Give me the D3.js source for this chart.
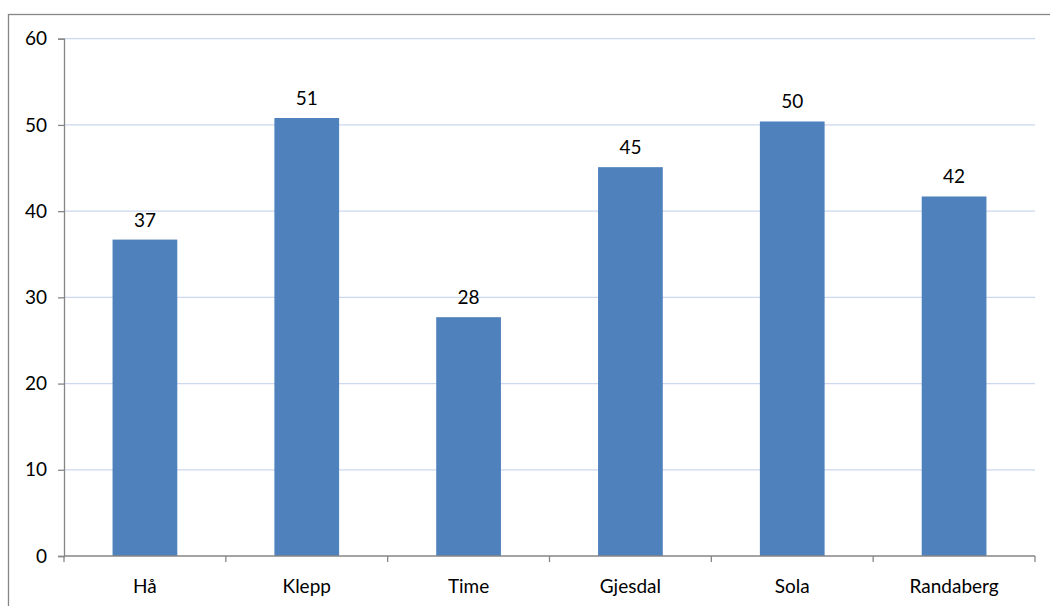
<!DOCTYPE html>
<html>
<head>
<meta charset="utf-8">
<script src="https://cdn.jsdelivr.net/npm/d3@7"></script>
<style>
  html, body { margin: 0; padding: 0; background: #fff; }
  svg { display: block; }
  text { font-family: Lato, "Open Sans", sans-serif; fill: #000; }
</style>
</head>
<body>
<svg id="chart" width="1050" height="606"></svg>
<script>
// Municipalities and their values
const categories = ["Hå", "Klepp", "Time", "Gjesdal", "Sola", "Randaberg"];
const values = [36.7, 50.8, 27.7, 45.1, 50.4, 41.7];
const yTicks = [0, 10, 20, 30, 40, 50, 60];

const svg = d3.select("#chart");
const W = 1050, H = 606;
const plot = { left: 64, right: 1035, top: 38.7, bottom: 556 };
const fontSize = 19;

// outer frame of the chart area
svg.append("rect")
  .attr("x", 8.5).attr("y", 14.5)
  .attr("width", W + 10).attr("height", H + 10)
  .attr("fill", "none").attr("stroke", "#868686").attr("stroke-width", 1.3);

const x = d3.scaleBand()
  .domain(categories)
  .range([plot.left, plot.right])
  .paddingInner(0.6)
  .paddingOuter(0.3);

const xEdges = d3.scaleLinear()
  .domain([0, categories.length])
  .range([plot.left, plot.right]);

const y = d3.scaleLinear()
  .domain([0, 60])
  .range([plot.bottom, plot.top]);

// horizontal gridlines
svg.append("g")
  .selectAll("line")
  .data(yTicks.filter(d => d > 0))
  .join("line")
  .attr("x1", plot.left).attr("x2", plot.right)
  .attr("y1", d => y(d)).attr("y2", d => y(d))
  .attr("stroke", "#ccd8ee").attr("stroke-width", 1.3);

// bars
svg.append("g")
  .selectAll("rect")
  .data(values)
  .join("rect")
  .attr("x", (d, i) => x(categories[i]))
  .attr("width", x.bandwidth())
  .attr("y", d => y(d))
  .attr("height", d => y(0) - y(d))
  .attr("fill", "#4f81bd");

// value labels
svg.append("g")
  .selectAll("text")
  .data(values)
  .join("text")
  .attr("x", (d, i) => x(categories[i]) + x.bandwidth() / 2)
  .attr("y", d => y(d) - 13)
  .attr("text-anchor", "middle")
  .attr("font-size", fontSize)
  .text(d => d3.format(".0f")(d));

// y axis
const yAxis = d3.axisLeft(y)
  .tickValues(yTicks)
  .tickSize(6)
  .tickPadding(11)
  .tickFormat(d3.format("d"));
const gy = svg.append("g")
  .attr("transform", `translate(${plot.left},0)`)
  .call(yAxis);
gy.select(".domain").attr("stroke", "#868686").attr("stroke-width", 1.3);
gy.selectAll(".tick line").attr("stroke", "#868686").attr("stroke-width", 1.3);
gy.selectAll(".tick text").attr("font-size", fontSize).attr("font-family", "Lato, sans-serif").attr("fill", "#000");

// x axis with ticks at category boundaries
const gx = svg.append("g");
gx.append("line")
  .attr("x1", plot.left).attr("x2", plot.right)
  .attr("y1", plot.bottom).attr("y2", plot.bottom)
  .attr("stroke", "#868686").attr("stroke-width", 1.3);
gx.selectAll("line.edge")
  .data(d3.range(categories.length + 1))
  .join("line")
  .attr("class", "edge")
  .attr("x1", d => xEdges(d)).attr("x2", d => xEdges(d))
  .attr("y1", plot.bottom).attr("y2", plot.bottom + 6)
  .attr("stroke", "#868686").attr("stroke-width", 1.3);
gx.selectAll("text")
  .data(categories)
  .join("text")
  .attr("x", d => x(d) + x.bandwidth() / 2)
  .attr("y", 593)
  .attr("text-anchor", "middle")
  .attr("font-size", fontSize)
  .text(d => d);
</script>
</body>
</html>
